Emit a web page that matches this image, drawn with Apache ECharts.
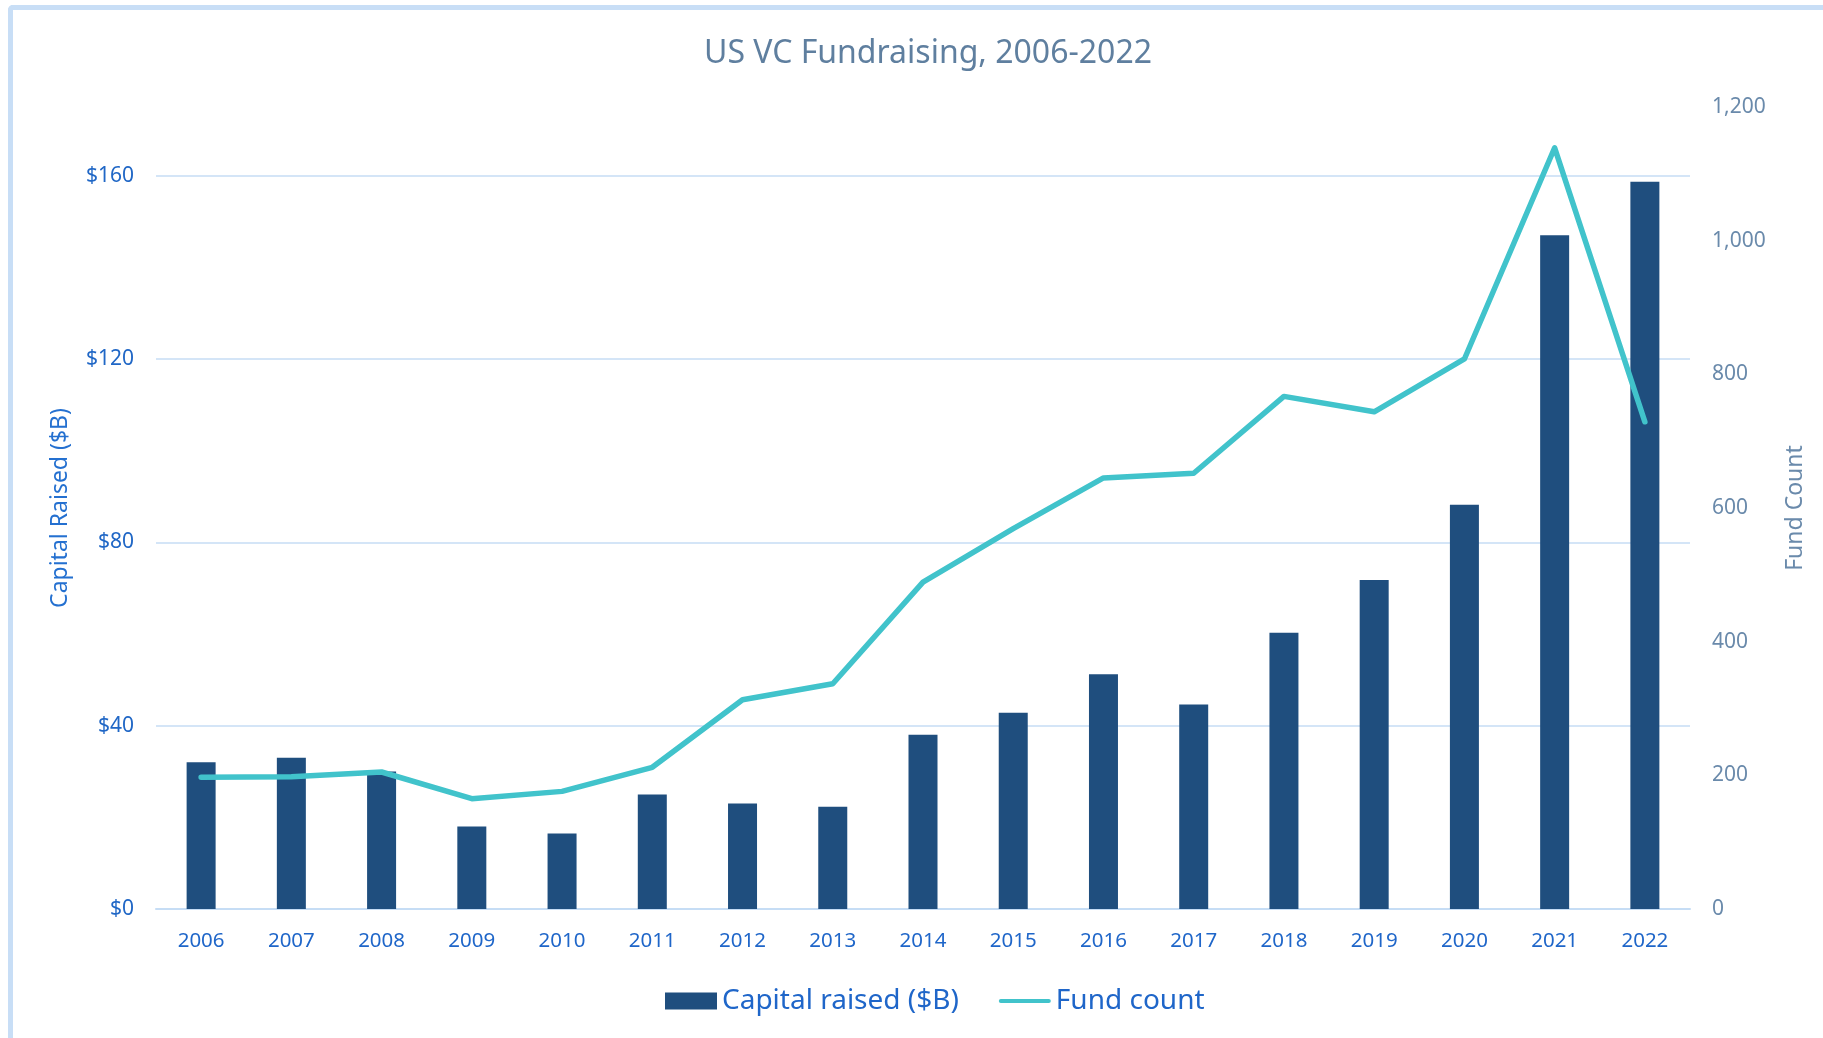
<!DOCTYPE html>
<html>
<head>
<meta charset="utf-8">
<title>US VC Fundraising</title>
<script src="https://cdn.jsdelivr.net/npm/echarts@6/dist/echarts.min.js"></script>
<style>
  html, body { margin: 0; padding: 0; background: #fff; }
  #frame {
    position: absolute; left: 8px; top: 5px; width: 1830px; height: 1050px;
    border-top: 5px solid #c8def6; border-left: 5px solid #c8def6;
    border-top-left-radius: 5px; box-sizing: border-box; pointer-events: none;
  }
  #chart { width: 1823px; height: 1038px; }
</style>
</head>
<body>
<div id="chart"></div>
<div id="frame"></div>
<script>
// years on the x axis
const years = ["2006", "2007", "2008", "2009", "2010", "2011", "2012", "2013", "2014",
  "2015", "2016", "2017", "2018", "2019", "2020", "2021", "2022"];
// capital raised, $B
const capitalRaised = [32, 33, 30, 18, 16.5, 25, 23, 22.3, 38, 42.8, 51.2, 44.6, 60.3, 71.8, 88.2, 147, 158.7];
// number of funds
const fundCount = [197, 198, 205, 165, 176, 212, 313, 337, 489, 569, 645, 652, 767, 744, 823, 1139, 729];

const font = "Noto Sans";
const chart = echarts.init(document.getElementById("chart"));

const option = {
  animation: false,
  title: {
    text: "US VC Fundraising, 2006-2022",
    left: 923,
    textAlign: "center",
    top: 33,
    textStyle: { color: "#5f7f9f", fontSize: 32, fontWeight: "normal", fontFamily: font }
  },
  legend: {
    bottom: 18,
    left: 660,
    itemGap: 40,
    itemWidth: 52,
    itemHeight: 17,
    textStyle: { color: "#1f66c9", fontSize: 28, fontFamily: font },
    data: [
      { name: "Capital raised ($B)", icon: "rect" },
      { name: "Fund count", icon: "path://M2,0 L50,0 A2,2 0 0 1 50,4 L2,4 A2,2 0 0 1 2,0 Z", itemStyle: { color: "#41c3cb" } }
    ]
  },
  grid: { left: 156, right: 133, top: 107, bottom: 129 },
  xAxis: {
    type: "category",
    data: years,
    axisLine: { lineStyle: { color: "#c6ddf5", width: 2 } },
    axisTick: { show: false },
    axisLabel: { color: "#1f66c9", fontSize: 20.5, fontFamily: font, margin: 22 }
  },
  yAxis: [
    {
      type: "value",
      min: 0,
      max: 175,
      interval: 40,
      name: "Capital Raised ($B)",
      nameLocation: "middle",
      nameRotate: 90,
      nameGap: 84,
      nameTextStyle: { color: "#2470d0", fontSize: 23, fontFamily: font },
      axisLine: { show: false },
      axisTick: { show: false },
      axisLabel: {
        color: "#2067c6", fontSize: 21, fontFamily: font, margin: 22,
        showMaxLabel: false,
        formatter: v => "$" + v
      },
      splitLine: { showMaxLine: false, lineStyle: { color: "#c6ddf5", width: 1.5 } }
    },
    {
      type: "value",
      min: 0,
      max: 1200,
      interval: 200,
      position: "right",
      name: "Fund Count",
      nameLocation: "middle",
      nameRotate: 90,
      nameGap: 94,
      nameTextStyle: { color: "#6a8aab", fontSize: 23, fontFamily: font },
      axisLine: { show: false },
      axisTick: { show: false },
      axisLabel: {
        color: "#6a8aab", fontSize: 21, fontFamily: font, margin: 22,
        formatter: v => v.toLocaleString("en-US")
      },
      splitLine: { show: false }
    }
  ],
  series: [
    {
      name: "Capital raised ($B)",
      type: "bar",
      data: capitalRaised,
      barWidth: 29,
      itemStyle: { color: "#1f4e7e" },
      z: 2
    },
    {
      name: "Fund count",
      type: "line",
      yAxisIndex: 1,
      data: fundCount,
      symbol: "none",
      lineStyle: { color: "#41c3cb", width: 5.5, cap: "round", join: "round" },
      itemStyle: { color: "#41c3cb" },
      z: 3
    }
  ]
};

chart.setOption(option);
window.addEventListener("resize", function() {
  chart.resize();
});
</script>
</body>
</html>
